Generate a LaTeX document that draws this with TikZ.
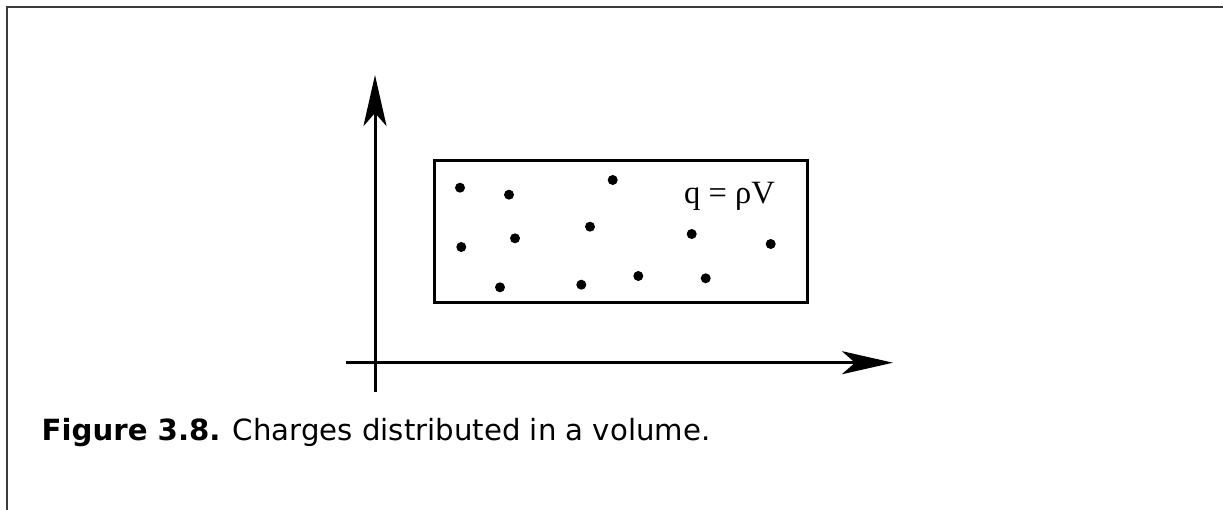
\documentclass[tikz,border=0pt]{standalone}
\usepackage{fontspec}
\setmainfont{DejaVu Sans}
\newfontfamily\labelfont{Liberation Serif}
\usetikzlibrary{arrows.meta,positioning}
\definecolor{framegray}{HTML}{3A3A3A}
\tikzset{
  axis/.style={line width=3pt,-{Stealth[length=51pt,width=23pt,inset=13pt]}},
  volbox/.style={draw,rectangle,line width=3pt,minimum width=373pt,minimum height=142pt,inner sep=0pt},
  charge/.style={circle,fill,inner sep=0pt,minimum size=10pt},
  frameline/.style={draw=framegray,line width=2pt}
}

\begin{document}
\begin{tikzpicture}[x=1pt,y=-1pt]
  \useasboundingbox (0,0) rectangle (1223,510);
  \draw[frameline] (6.5,512) -- (6.5,7.3) -- (1225,7.3);
  % axes
  \coordinate (xs) at (346,362.7);
  \coordinate (xe) at (893,362.7);
  \coordinate (ys) at (375,391.7);
  \coordinate (ye) at (375,75);
  \draw[axis] (xs) -- (xe);
  \draw[axis] (ys) -- (ye);
  % volume
  \node[volbox] (vol) at (620.5,232) {};
  \node[charge] (c1) at (460,187.7) {};
  \node[charge] (c2) at (509,194.7) {};
  \node[charge] (c3) at (612.7,180) {};
  \node[charge] (c4) at (461.3,247) {};
  \node[charge] (c5) at (515,238.3) {};
  \node[charge] (c6) at (590,226.7) {};
  \node[charge] (c7) at (691.7,234) {};
  \node[charge] (c8) at (770.7,244) {};
  \node[charge] (c9) at (500,287.3) {};
  \node[charge] (c10) at (581.3,284.7) {};
  \node[charge] (c11) at (638.3,276) {};
  \node[charge] (c12) at (705.7,278.3) {};
  \node[anchor=base west,inner sep=0pt,font=\labelfont\fontsize{32.5}{38}\selectfont] (q) at (684,204) {q = ρV};
  % caption
  \node[anchor=base west,inner sep=0pt,font=\fontsize{29.2}{34}\selectfont] (cap) at (41.5,440)
    {\textbf{Figure 3.8.} Charges distributed in a volume.};
\end{tikzpicture}
\end{document}
